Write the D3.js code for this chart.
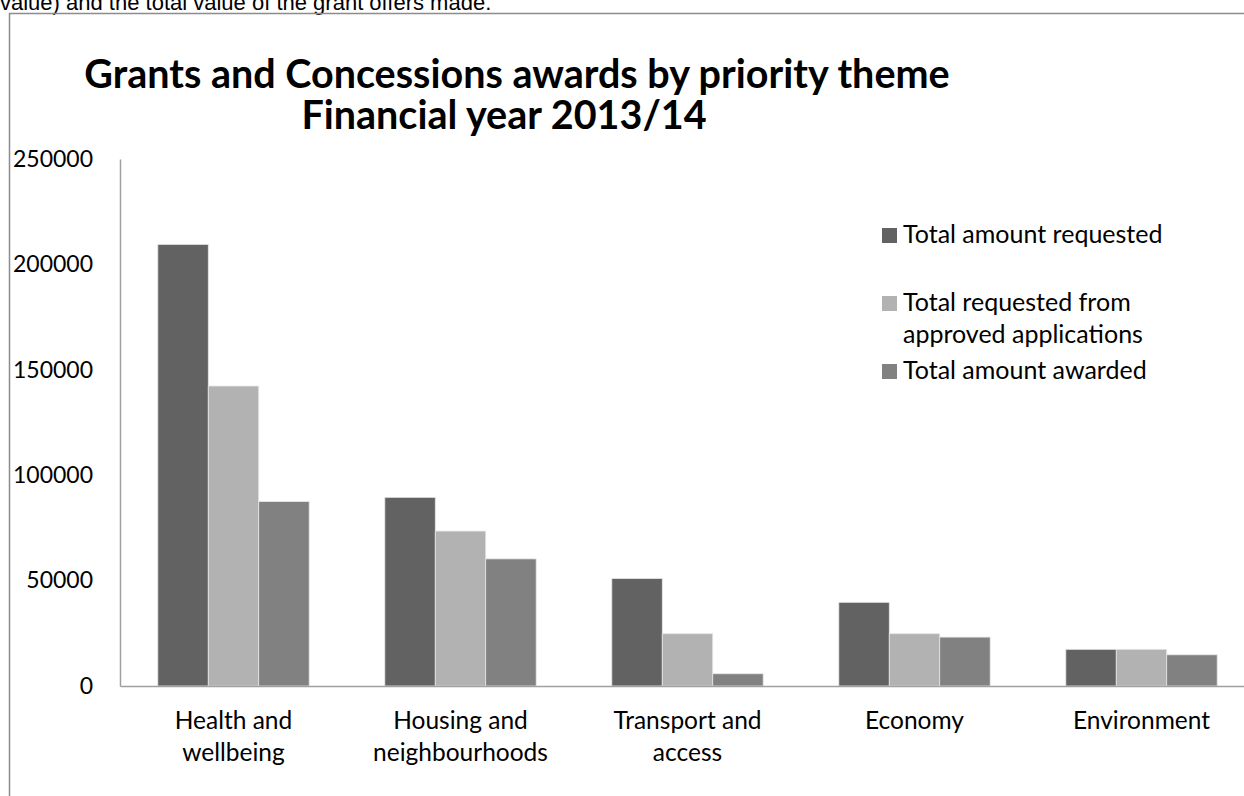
<!DOCTYPE html>
<html>
<head>
<meta charset="utf-8">
<script src="https://cdn.jsdelivr.net/npm/d3@7"></script>
<style>
  body { margin: 0; background: #fff; }
  svg { display: block; }
</style>
</head>
<body>
<svg width="1244" height="796"></svg>
<script>
// data
var themes = [["Health and", "wellbeing"], ["Housing and", "neighbourhoods"], ["Transport and", "access"], ["Economy"], ["Environment"]];
var themeKeys = ["Health and wellbeing", "Housing and neighbourhoods", "Transport and access", "Economy", "Environment"];
var seriesNames = ["Total amount requested", "Total requested from approved applications", "Total amount awarded"];
var requested = [209500, 89500, 51000, 39700, 17400];
var approved  = [142300, 73500, 24800, 24800, 17400];
var awarded   = [87500, 60300, 5800, 23200, 14800];
var yTicks = [0, 50000, 100000, 150000, 200000, 250000];
var colors = ["#626262", "#b2b2b2", "#818181"];

var svg = d3.select("svg");
var font = "Lato, 'Open Sans', sans-serif";

// text cut off above the chart box
svg.append("text")
  .attr("x", 0).attr("y", 10)
  .style("font-family", "'Liberation Sans', Arial, sans-serif")
  .style("font-size", "22px")
  .text("value) and the total value of the grant offers made.");

// chart box border
svg.append("path")
  .attr("d", "M9.5,796 V13.5 H1244")
  .attr("fill", "none")
  .attr("stroke", "#8c8c8c")
  .attr("stroke-width", 1.5);

// title, two centred lines
var titleLines = ["Grants and Concessions awards by priority theme", "Financial year 2013/14"];
var titleX = [517, 504];
svg.append("g").selectAll("text")
  .data(titleLines)
  .enter().append("text")
  .attr("x", function(d, i) { return titleX[i]; })
  .attr("y", function(d, i) { return 88 + i * 41; })
  .attr("text-anchor", "middle")
  .style("font-family", font)
  .style("font-weight", "bold")
  .style("font-size", "39.5px")
  .attr("fill", "#000")
  .text(function(d) { return d; });

var x0 = d3.scaleBand()
  .domain(themeKeys)
  .range([120, 1255])
  .paddingInner(1/3)
  .paddingOuter(1/6);

var x1 = d3.scaleBand()
  .domain([0, 1, 2])
  .range([0, x0.bandwidth()]);

var y = d3.scaleLinear()
  .domain([0, 250000])
  .range([686, 159]);

var data = themeKeys.map(function(k, i) {
  return {key: k, values: [requested[i], approved[i], awarded[i]]};
});

// bars
var groups = svg.append("g").selectAll("g")
  .data(data)
  .enter().append("g")
  .attr("transform", function(d) { return "translate(" + x0(d.key) + ",0)"; });

groups.selectAll("rect")
  .data(function(d) { return d.values.map(function(v, j) { return {s: j, v: v}; }); })
  .enter().append("rect")
  .attr("x", function(d) { return x1(d.s); })
  .attr("y", function(d) { return y(d.v); })
  .attr("width", x1.bandwidth())
  .attr("height", function(d) { return y(0) - y(d.v); })
  .attr("fill", function(d) { return colors[d.s]; })
  .attr("stroke", "#e6e6e6")
  .attr("stroke-width", 0.8);

// y axis
var yAxis = svg.append("g")
  .attr("transform", "translate(120,0)")
  .call(d3.axisLeft(y).tickValues(yTicks).tickSize(0).tickPadding(27).tickFormat(d3.format("d")));
yAxis.select(".domain").attr("stroke", "#a0a0a0").attr("stroke-width", 1.5);
yAxis.selectAll("text")
  .style("font-family", font)
  .style("font-size", "23px")
  .attr("fill", "#000");

// x axis line
var xAxis = svg.append("g")
  .attr("transform", "translate(0,686)")
  .call(d3.axisBottom(d3.scaleLinear().domain([0, 1]).range([120, 1244])).ticks(0).tickSize(0));
xAxis.select(".domain").attr("stroke", "#a0a0a0").attr("stroke-width", 1.5);

// category labels
var labels = svg.append("g").selectAll("text")
  .data(themeKeys)
  .enter().append("text")
  .attr("text-anchor", "middle")
  .style("font-family", font)
  .style("font-size", "24.5px")
  .attr("fill", "#000");
labels.each(function(d, i) {
  var t = d3.select(this);
  themes[i].forEach(function(line, j) {
    t.append("tspan")
      .attr("x", x0(d) + x0.bandwidth() / 2)
      .attr("y", 729 + j * 32)
      .text(line);
  });
});

// legend
var legendLines = [["Total amount requested"], ["Total requested from", "approved applications"], ["Total amount awarded"]];
var legendY = [243, 311, 379];
var legend = svg.append("g").selectAll("g")
  .data(seriesNames)
  .enter().append("g")
  .attr("transform", function(d, i) { return "translate(882," + legendY[i] + ")"; });
legend.append("rect")
  .attr("x", 0).attr("y", -15)
  .attr("width", 15).attr("height", 15)
  .attr("fill", function(d, i) { return colors[i]; });
legend.append("text")
  .style("font-family", font)
  .style("font-size", "25px")
  .attr("fill", "#000")
  .each(function(d, i) {
    var t = d3.select(this);
    legendLines[i].forEach(function(line, j) {
      t.append("tspan").attr("x", 21).attr("y", j * 32).text(line);
    });
  });
</script>
</body>
</html>
